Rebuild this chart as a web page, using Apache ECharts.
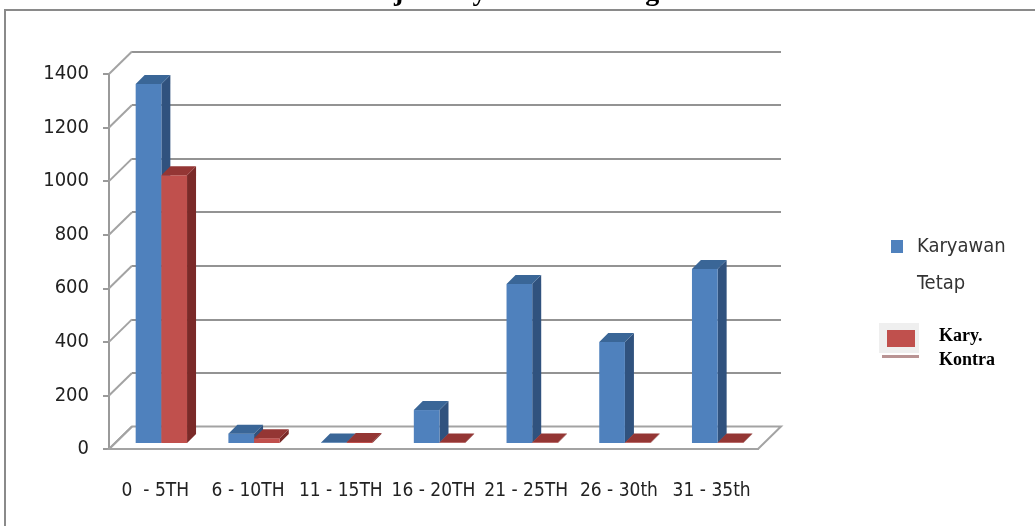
<!DOCTYPE html>
<html>
<head>
<meta charset="utf-8">
<script src="https://cdn.jsdelivr.net/npm/echarts@6/dist/echarts.min.js"></script>
<style>
  html, body { margin: 0; padding: 0; background: #fff; }
  #chart { width: 1035px; height: 526px; }
</style>
</head>
<body>
<div id="chart"></div>
<script>
const categories = ['0  - 5TH', '6 - 10TH', '11 - 15TH', '16 - 20TH', '21 - 25TH', '26 - 30th', '31 - 35th'];
const tetap = [1340, 35, 2, 123, 594, 377, 650];
const kontrak = [1000, 18, 4, 2, 2, 2, 2];
const yTicks = [0, 200, 400, 600, 800, 1000, 1200, 1400];

const narrow = "'Liberation Sans Narrow', 'DejaVu Sans Condensed', sans-serif";
const serif = "'Liberation Serif', 'DejaVu Serif', serif";

// fake 3d depth
const DX = 23, DY = 22.5;
const SHIFT = 6, BD = 9, RATIO = 0.277;

function bar(front, side, top, dir) {
    return function (params, api) {
        const cat = api.value(0), v = api.value(1);
        const base = api.coord([cat, 0]), head = api.coord([cat, v]);
        const bw = api.size([1, 0])[0] * RATIO;
        const x0 = base[0] + SHIFT + (dir < 0 ? -bw : 0), x1 = x0 + bw;
        const yb = base[1] - SHIFT, yt = head[1] - SHIFT;
        return {
            type: 'group',
            children: [
                { type: 'polygon', shape: { points: [[x1, yt], [x1 + BD, yt - BD], [x1 + BD, yb - BD], [x1, yb]] }, style: { fill: side } },
                { type: 'rect', shape: { x: x0, y: yt, width: bw, height: yb - yt }, style: { fill: front } },
                { type: 'polygon', shape: { points: [[x0, yt], [x1, yt], [x1 + BD, yt - BD], [x0 + BD, yt - BD]] }, style: { fill: top } }
            ]
        };
    };
}

var myChart = echarts.init(document.getElementById('chart'));
myChart.setOption({
    animation: false,
    grid: [
        { left: 109, top: 74, width: 649, height: 375 },
        { left: 109 + DX, top: 74 - DY, width: 649, height: 375 }
    ],
    xAxis: [{
        type: 'category',
        gridIndex: 0,
        data: categories,
        axisLine: { lineStyle: { color: '#9a9a9a', width: 2 } },
        axisTick: { length: 7, lineStyle: { color: '#9a9a9a', width: 2 } },
        axisLabel: { interval: 0, margin: 33, fontSize: 19, color: '#222', fontFamily: narrow }
    }, {
        type: 'category',
        gridIndex: 1,
        data: categories,
        show: false
    }],
    yAxis: [{
        type: 'value',
        gridIndex: 0,
        min: 0, max: 1400, interval: 200,
        splitLine: { show: false },
        axisLine: { show: true, lineStyle: { color: '#9a9a9a', width: 2 } },
        axisTick: { show: true, length: 6, lineStyle: { color: '#9a9a9a', width: 2 } },
        axisLabel: { margin: 20, fontSize: 20, color: '#222', fontFamily: narrow, formatter: v => String(v) }
    }, {
        type: 'value',
        gridIndex: 1,
        min: 0, max: 1400, interval: 200,
        axisLabel: { show: false },
        axisLine: { show: false },
        axisTick: { show: false },
        splitLine: { lineStyle: { color: '#939393', width: 2 } }
    }],
    series: [{
        // floor
        type: 'custom',
        z: 1,
        data: [[0, 0]],
        renderItem(params, api) {
            const band = api.size([1, 0])[0];
            const l = api.coord([0, 0]), r = api.coord([categories.length - 1, 0]);
            const x0 = l[0] - band / 2, x1 = r[0] + band / 2, y = l[1];
            return {
                type: 'polygon',
                shape: { points: [[x0, y], [x1, y], [x1 + DX, y - DY], [x0 + DX, y - DY]] },
                style: { fill: '#fff', stroke: '#a3a3a3', lineWidth: 2 }
            };
        }
    }, {
        // left wall lines
        type: 'custom',
        z: 1,
        data: yTicks.map(v => [0, v]),
        renderItem(params, api) {
            const band = api.size([1, 0])[0];
            const p = api.coord([0, api.value(1)]);
            const x = p[0] - band / 2;
            return {
                type: 'line',
                shape: { x1: x, y1: p[1], x2: x + DX, y2: p[1] - DY },
                style: { stroke: '#a3a3a3', lineWidth: 2 }
            };
        }
    }, {
        name: 'Karyawan Tetap',
        type: 'custom',
        z: 3,
        data: tetap.map((v, i) => [i, v]),
        renderItem: bar('#4F81BD', '#30527E', '#3A6697', -1)
    }, {
        name: 'Kary. Kontra',
        type: 'custom',
        z: 4,
        data: kontrak.map((v, i) => [i, v]),
        renderItem: bar('#C0504D', '#7A2A28', '#943634', 1)
    }],
    graphic: [
        { type: 'rect', shape: { x: 5, y: 10, width: 1100, height: 600 }, style: { fill: 'none', stroke: '#8a8a8a', lineWidth: 2 } },
        { type: 'text', x: 525, y: 7, style: { text: 'Profile Masa Kerja Karyawan PT. Dirgantara Indonesia', font: 'bold 28px ' + serif, fill: '#000', align: 'center', verticalAlign: 'bottom' } },
        { type: 'rect', shape: { x: 891, y: 240, width: 12, height: 13 }, style: { fill: '#4F81BD' } },
        { type: 'text', x: 917, y: 247, style: { text: 'Karyawan', font: '20px ' + narrow, fill: '#333', verticalAlign: 'middle' } },
        { type: 'text', x: 917, y: 284, style: { text: 'Tetap', font: '20px ' + narrow, fill: '#333', verticalAlign: 'middle' } },
        { type: 'rect', shape: { x: 879, y: 323, width: 40, height: 30 }, style: { fill: '#efefef' } },
        { type: 'rect', shape: { x: 887, y: 330, width: 28, height: 17 }, style: { fill: '#C0504D' } },
        { type: 'rect', shape: { x: 882, y: 355, width: 37, height: 3 }, style: { fill: '#b99494' } },
        { type: 'text', x: 939, y: 336, style: { text: 'Kary.', font: 'bold 18px ' + serif, fill: '#000', verticalAlign: 'middle' } },
        { type: 'text', x: 939, y: 360, style: { text: 'Kontra', font: 'bold 18px ' + serif, fill: '#000', verticalAlign: 'middle' } }
    ]
});
</script>
</body>
</html>
